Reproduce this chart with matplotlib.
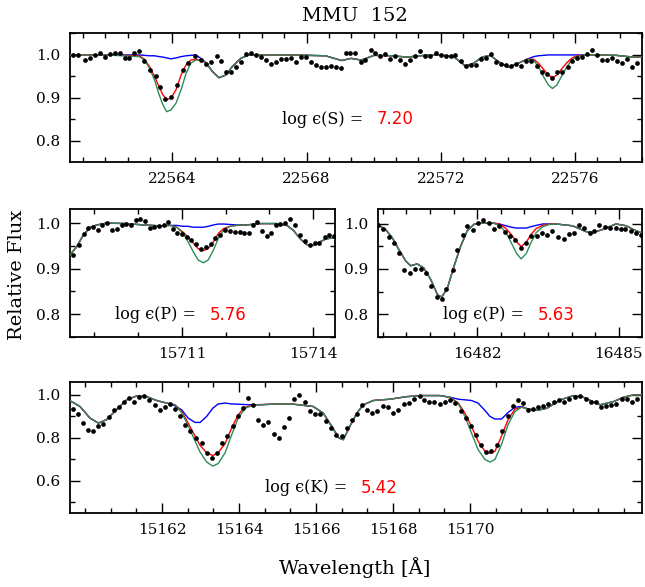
import numpy as np
import matplotlib
matplotlib.use('Agg')
import matplotlib.pyplot as plt
from matplotlib.ticker import MultipleLocator, FixedLocator

plt.rcParams['font.family'] = 'DejaVu Serif'

# S I panel
s_obs_wave = [22561.04, 22561.19, 22561.39, 22561.54, 22561.69, 22561.83, 22561.98, 22562.13, 22562.28,
              22562.43, 22562.58, 22562.72, 22562.87, 22563.02, 22563.17, 22563.32, 22563.50, 22563.63,
              22563.79, 22563.95, 22564.13, 22564.31, 22564.48, 22564.68, 22564.85, 22565.00, 22565.15,
              22565.32, 22565.46, 22565.61, 22565.76, 22565.91, 22566.06, 22566.21, 22566.35, 22566.50,
              22566.65, 22566.80, 22566.95, 22567.10, 22567.25, 22567.39, 22567.54, 22567.69, 22567.84,
              22567.99, 22568.13, 22568.28, 22568.43, 22568.58, 22568.73, 22568.88, 22569.03, 22569.17,
              22569.31, 22569.45, 22569.61, 22569.75, 22569.91, 22570.04, 22570.20, 22570.35, 22570.50,
              22570.65, 22570.80, 22570.94, 22571.09, 22571.24, 22571.39, 22571.54, 22571.68, 22571.85,
              22572.00, 22572.15, 22572.30, 22572.44, 22572.61, 22572.76, 22572.91, 22573.06, 22573.21,
              22573.36, 22573.51, 22573.65, 22573.80, 22573.95, 22574.09, 22574.24, 22574.39, 22574.54,
              22574.69, 22574.88, 22575.03, 22575.18, 22575.33, 22575.48, 22575.63, 22575.78, 22575.92,
              22576.07, 22576.22, 22576.37, 22576.52, 22576.67, 22576.81, 22576.96, 22577.11, 22577.26,
              22577.41, 22577.55, 22577.70, 22577.85]
s_obs_flux = [1.000, 1.000, 0.988, 0.994, 1.000, 1.004, 0.996, 1.002, 1.005,
              1.004, 0.992, 0.992, 1.005, 1.009, 0.987, 0.965, 0.950, 0.925,
              0.897, 0.903, 0.930, 0.965, 0.981, 0.998, 0.988, 0.978, 0.984,
              0.998, 0.987, 0.961, 0.961, 0.973, 0.984, 1.002, 1.004, 0.999,
              0.996, 0.988, 0.979, 0.984, 0.990, 0.990, 0.992, 0.984, 0.996,
              0.996, 0.983, 0.976, 0.972, 0.973, 0.975, 0.973, 0.969, 1.004,
              1.005, 1.005, 0.984, 0.988, 1.012, 1.004, 0.998, 1.002, 0.990,
              0.998, 0.988, 0.978, 0.988, 0.998, 1.008, 0.998, 0.998, 1.004,
              1.000, 0.998, 0.998, 1.000, 0.987, 0.975, 0.977, 0.977, 0.990,
              0.992, 1.002, 0.983, 0.978, 0.977, 0.975, 0.978, 0.974, 0.986,
              0.986, 0.974, 0.961, 0.955, 0.947, 0.961, 0.961, 0.971, 0.986,
              0.992, 0.996, 1.002, 1.012, 1.000, 0.988, 0.988, 0.992, 0.986,
              0.981, 0.990, 0.971, 0.981]
# synthesis where the three abundances agree
s_mod_wave = [22560.95, 22562.00, 22565.20, 22565.39, 22565.59, 22565.79, 22566.04, 22566.28, 22567.57,
              22568.56, 22569.05, 22569.33, 22569.63, 22570.02, 22570.52, 22571.01, 22571.51, 22572.00,
              22572.40, 22572.74, 22572.99, 22573.23, 22573.48, 22573.73, 22574.02, 22574.32, 22576.54,
              22577.23, 22577.73, 22578.00]
s_mod_flux = [1.000, 1.000, 0.961, 0.947, 0.953, 0.973, 0.992, 1.000, 1.000,
              0.998, 0.987, 0.992, 0.988, 0.999, 0.998, 0.995, 0.999, 1.000,
              0.995, 0.974, 0.981, 0.995, 0.999, 0.984, 0.971, 0.981, 1.000,
              0.999, 0.995, 0.995]
s_line1_wave = [22563.02, 22563.17, 22563.32, 22563.47, 22563.61, 22563.72, 22563.83, 22563.96,
                22564.11, 22564.26, 22564.41, 22564.55, 22564.70, 22564.85, 22565.00]
s_line1_blue = [1.000, 0.999, 0.998, 0.998, 0.996, 0.995, 0.993, 0.991,
                0.993, 0.996, 0.998, 0.999, 1.000, 0.992, 0.982]
s_line1_red = [0.998, 0.990, 0.973, 0.950, 0.925, 0.907, 0.897, 0.899,
               0.919, 0.953, 0.977, 0.988, 0.990, 0.988, 0.982]
s_line1_green = [0.996, 0.988, 0.969, 0.942, 0.907, 0.884, 0.868, 0.872,
                 0.888, 0.919, 0.957, 0.981, 0.988, 0.988, 0.982]
s_line2_wave = [22574.57, 22574.77, 22574.91, 22575.06, 22575.21, 22575.33, 22575.46, 22575.60,
                22575.75, 22575.90, 22576.05, 22576.30]
s_line2_blue = [0.990, 0.996, 0.998, 0.999, 1.000, 1.000, 1.000, 1.000, 1.000, 1.000, 1.000, 1.000]
s_line2_red = [0.990, 0.990, 0.981, 0.967, 0.953, 0.947, 0.953, 0.967, 0.981, 0.992, 0.998, 1.000]
s_line2_green = [0.990, 0.988, 0.973, 0.950, 0.930, 0.922, 0.930, 0.950, 0.971, 0.988, 0.996, 1.000]

# P I 15711 panel
p1_obs_wave = [15708.51, 15708.65, 15708.76, 15708.86, 15708.97, 15709.07, 15709.18, 15709.29, 15709.41,
               15709.52, 15709.63, 15709.73, 15709.83, 15709.95, 15710.05, 15710.16, 15710.27, 15710.37,
               15710.48, 15710.59, 15710.69, 15710.80, 15710.89, 15711.01, 15711.11, 15711.21, 15711.32,
               15711.43, 15711.54, 15711.66, 15711.76, 15711.88, 15711.99, 15712.10, 15712.21, 15712.33,
               15712.43, 15712.54, 15712.62, 15712.72, 15712.83, 15712.94, 15713.04, 15713.14, 15713.24,
               15713.36, 15713.47, 15713.59, 15713.70, 15713.81, 15713.93, 15714.04, 15714.14, 15714.26,
               15714.37, 15714.48]
p1_obs_flux = [0.929, 0.953, 0.977, 0.989, 0.991, 0.985, 0.995, 1.000, 0.985,
               0.988, 0.995, 0.997, 0.996, 1.007, 1.009, 1.004, 0.989, 0.991,
               0.993, 0.995, 1.002, 0.986, 0.979, 0.977, 0.970, 0.963, 0.955,
               0.943, 0.947, 0.955, 0.968, 0.975, 0.984, 0.982, 0.981, 0.981,
               0.979, 0.979, 0.996, 1.002, 0.983, 0.971, 0.979, 0.996, 0.999,
               1.000, 1.009, 0.995, 0.973, 0.960, 0.953, 0.956, 0.957, 0.969,
               0.973, 0.971]
p1_mod_wave = [15708.40, 15708.59, 15708.74, 15708.89, 15709.05, 15709.28, 15709.73, 15710.12, 15710.50,
               15712.78, 15713.17, 15713.40, 15713.55, 15713.70, 15713.85, 15714.01, 15714.16, 15714.31,
               15714.46, 15714.58]
p1_mod_flux = [0.925, 0.948, 0.973, 0.990, 0.996, 1.000, 0.999, 0.996, 0.994,
               0.999, 0.999, 0.995, 0.984, 0.966, 0.953, 0.951, 0.959, 0.966,
               0.967, 0.964]
p1_line_wave = [15710.73, 15710.88, 15711.03, 15711.14, 15711.26, 15711.37, 15711.49, 15711.60,
                15711.72, 15711.83, 15711.95, 15712.10, 15712.25, 15712.48]
p1_line_blue = [0.995, 0.995, 0.993, 0.993, 0.991, 0.991, 0.991, 0.993,
                0.996, 0.998, 0.998, 0.997, 0.996, 0.996]
p1_line_red = [0.995, 0.991, 0.980, 0.969, 0.956, 0.944, 0.940, 0.944,
               0.959, 0.977, 0.988, 0.993, 0.995, 0.996]
p1_line_green = [0.995, 0.991, 0.977, 0.959, 0.937, 0.919, 0.913, 0.919,
                 0.941, 0.966, 0.984, 0.993, 0.995, 0.996]

# P I 16482 panel
p2_obs_wave = [16479.91, 16480.01, 16480.13, 16480.24, 16480.34, 16480.46, 16480.58, 16480.68, 16480.80,
               16480.91, 16481.02, 16481.14, 16481.25, 16481.35, 16481.48, 16481.58, 16481.69, 16481.79,
               16481.92, 16482.02, 16482.13, 16482.25, 16482.36, 16482.47, 16482.59, 16482.69, 16482.81,
               16482.93, 16483.03, 16483.15, 16483.26, 16483.37, 16483.47, 16483.59, 16483.71, 16483.83,
               16483.94, 16484.05, 16484.15, 16484.27, 16484.38, 16484.48, 16484.59, 16484.71, 16484.82,
               16484.93, 16485.04, 16485.14, 16485.26, 16485.37, 16485.47]
p2_obs_flux = [0.996, 0.989, 0.971, 0.958, 0.936, 0.897, 0.891, 0.899, 0.900,
               0.891, 0.863, 0.839, 0.833, 0.856, 0.897, 0.941, 0.974, 0.995,
               0.986, 1.002, 1.008, 1.002, 0.989, 0.995, 0.981, 0.973, 0.963,
               0.947, 0.956, 0.973, 0.973, 0.980, 0.974, 0.984, 0.971, 0.967,
               0.976, 0.980, 0.997, 0.991, 0.980, 0.984, 0.996, 0.993, 0.991,
               0.991, 0.989, 0.989, 0.984, 0.980, 0.974]
p2_mod_wave = [16479.85, 16480.06, 16480.20, 16480.34, 16480.49, 16480.59, 16480.73, 16480.87, 16481.02,
               16481.16, 16481.25, 16481.37, 16481.51, 16481.65, 16481.79, 16481.94, 16482.11,
               16484.02, 16484.31, 16484.45, 16484.66, 16484.94, 16485.16, 16485.30, 16485.51]
p2_mod_flux = [1.000, 0.987, 0.969, 0.943, 0.917, 0.907, 0.911, 0.902, 0.876,
               0.843, 0.838, 0.858, 0.906, 0.950, 0.984, 0.999, 1.001,
               0.995, 0.982, 0.980, 0.987, 0.999, 0.995, 0.987, 0.978]
p2_line_wave = [16482.33, 16482.47, 16482.61, 16482.72, 16482.83, 16482.93, 16483.04, 16483.14,
                16483.25, 16483.39, 16483.53, 16483.67]
p2_line_blue = [1.001, 0.999, 0.995, 0.992, 0.990, 0.990, 0.990, 0.993, 0.996, 0.999, 0.999, 0.999]
p2_line_red = [1.001, 0.999, 0.989, 0.976, 0.961, 0.949, 0.959, 0.976, 0.989, 0.996, 0.999, 0.999]
p2_line_green = [1.001, 0.996, 0.980, 0.958, 0.935, 0.922, 0.934, 0.958, 0.980, 0.993, 0.998, 0.999]

# K I panel
k_obs_wave = [15159.68, 15159.83, 15159.96, 15160.09, 15160.22, 15160.35, 15160.48, 15160.62, 15160.75,
              15160.89, 15161.01, 15161.14, 15161.27, 15161.41, 15161.54, 15161.67, 15161.82, 15161.95,
              15162.08, 15162.21, 15162.35, 15162.48, 15162.61, 15162.74, 15162.88, 15163.03, 15163.16,
              15163.29, 15163.44, 15163.57, 15163.70, 15163.84, 15163.97, 15164.10, 15164.24, 15164.37,
              15164.50, 15164.63, 15164.76, 15164.91, 15165.04, 15165.17, 15165.31, 15165.44, 15165.57,
              15165.71, 15165.84, 15165.97, 15166.10, 15166.25, 15166.38, 15166.51, 15166.67, 15166.80,
              15166.94, 15167.07, 15167.20, 15167.33, 15167.46, 15167.59, 15167.75, 15167.88, 15168.01,
              15168.14, 15168.29, 15168.42, 15168.55, 15168.69, 15168.81, 15168.94, 15169.07, 15169.22,
              15169.35, 15169.48, 15169.61, 15169.76, 15169.90, 15170.03, 15170.17, 15170.30, 15170.43,
              15170.56, 15170.71, 15170.84, 15170.98, 15171.11, 15171.24, 15171.37, 15171.52, 15171.65,
              15171.78, 15171.90, 15172.04, 15172.18, 15172.32, 15172.45, 15172.58, 15172.73, 15172.86,
              15173.01, 15173.14, 15173.27, 15173.40, 15173.53, 15173.66, 15173.79, 15173.94, 15174.07,
              15174.22, 15174.35]
k_obs_flux = [0.934, 0.911, 0.869, 0.835, 0.834, 0.854, 0.866, 0.897, 0.928,
              0.946, 0.969, 0.985, 0.969, 0.992, 0.995, 0.977, 0.954, 0.931,
              0.946, 0.957, 0.934, 0.900, 0.862, 0.831, 0.800, 0.777, 0.731,
              0.708, 0.731, 0.777, 0.808, 0.854, 0.900, 0.938, 0.985, 0.954,
              0.882, 0.862, 0.874, 0.820, 0.800, 0.851, 0.892, 0.980, 1.000,
              0.966, 0.923, 0.911, 0.911, 0.877, 0.846, 0.815, 0.808, 0.846,
              0.882, 0.911, 0.954, 0.928, 0.918, 0.923, 0.949, 0.943, 0.915,
              0.928, 0.958, 0.962, 0.980, 0.995, 0.977, 0.969, 0.965, 0.958,
              0.969, 0.977, 0.962, 0.923, 0.892, 0.854, 0.815, 0.765, 0.734,
              0.738, 0.765, 0.834, 0.900, 0.949, 0.977, 0.962, 0.931, 0.934,
              0.943, 0.949, 0.958, 0.969, 0.974, 0.969, 0.980, 0.989, 0.995,
              0.980, 0.969, 0.969, 0.943, 0.949, 0.954, 0.958, 0.980, 0.980,
              0.966, 0.980]
k_mod_wave = [15159.60, 15159.87, 15160.13, 15160.35, 15160.56, 15160.82, 15161.08, 15161.34, 15161.60,
              15161.86, 15162.12, 15164.89, 15165.41, 15165.93, 15166.19, 15166.41, 15166.59, 15166.71,
              15166.88, 15167.06, 15167.23, 15167.49, 15167.92, 15168.36, 15168.79, 15171.74, 15172.00,
              15172.35, 15172.69, 15172.95, 15173.38, 15173.73, 15173.99, 15174.25, 15174.47]
k_mod_flux = [0.974, 0.946, 0.892, 0.869, 0.885, 0.931, 0.977, 0.995, 0.992,
              0.974, 0.962, 0.957, 0.957, 0.946, 0.915, 0.854, 0.800, 0.792,
              0.854, 0.915, 0.954, 0.974, 0.980, 0.992, 0.997, 0.928, 0.938,
              0.977, 0.997, 0.989, 0.954, 0.969, 0.989, 1.000, 1.000]
k_line1_wave = [15162.34, 15162.51, 15162.68, 15162.86, 15162.99, 15163.16, 15163.32, 15163.46,
                15163.64, 15163.81, 15163.98, 15164.16, 15164.37, 15164.63]
k_line1_blue = [0.949, 0.931, 0.892, 0.872, 0.872, 0.900, 0.938, 0.958,
                0.962, 0.958, 0.957, 0.955, 0.954, 0.955]
k_line1_red = [0.954, 0.923, 0.869, 0.808, 0.765, 0.731, 0.718, 0.731,
               0.774, 0.846, 0.908, 0.943, 0.954, 0.955]
k_line1_green = [0.954, 0.918, 0.857, 0.785, 0.734, 0.688, 0.669, 0.681,
                 0.731, 0.815, 0.892, 0.938, 0.952, 0.955]
k_line2_wave = [15169.22, 15169.48, 15169.70, 15169.87, 15170.04, 15170.21, 15170.39, 15170.52,
                15170.65, 15170.82, 15170.99, 15171.17, 15171.34, 15171.52]
k_line2_blue = [0.997, 0.989, 0.980, 0.977, 0.974, 0.962, 0.928, 0.900,
                0.888, 0.888, 0.918, 0.943, 0.946, 0.934]
k_line2_red = [0.997, 0.989, 0.962, 0.915, 0.854, 0.785, 0.738, 0.728,
               0.738, 0.808, 0.885, 0.934, 0.943, 0.934]
k_line2_green = [0.997, 0.989, 0.958, 0.900, 0.823, 0.746, 0.700, 0.688,
                 0.700, 0.769, 0.862, 0.923, 0.943, 0.934]
k_ticks = [15162, 15164, 15166, 15168, 15170]

labels = ['log \u03f5(S) = ', 'log \u03f5(P) = ', 'log \u03f5(P) = ', 'log \u03f5(K) = ']
abund = ['7.20', '5.76', '5.63', '5.42']

#%% helpers
def splice(base_w, base_f, segs):
    w = np.asarray(base_w, float)
    f = np.asarray(base_f, float)
    for sw, sf in segs:
        sw = np.asarray(sw, float)
        keep = (w < sw[0]) | (w > sw[-1])
        w = np.concatenate([w[keep], sw])
        f = np.concatenate([f[keep], np.asarray(sf, float)])
        order = np.argsort(w)
        w, f = w[order], f[order]
    return w, f

def draw_panel(ax, obs_w, obs_f, base_w, base_f, lines, xlim, ylim, xmaj, xmin, ymaj, ymin, label, ab, tpos):
    colors = ['#0000ff', '#ff0000', '#2e8b57']
    for k, c in enumerate(colors):
        segs = [(lw, lf[k]) for lw, lf in lines]
        w, f = splice(base_w, base_f, segs)
        ax.plot(w, f, color=c, lw=1.0, zorder=2 + k)
    ax.plot(obs_w, obs_f, 'o', color='k', ms=3.4, mew=0, zorder=6)
    ax.set_xlim(xlim)
    ax.set_ylim(ylim)
    if np.iterable(xmaj):
        ax.xaxis.set_major_locator(FixedLocator(xmaj))
    else:
        ax.xaxis.set_major_locator(MultipleLocator(xmaj))
    ax.xaxis.set_minor_locator(MultipleLocator(xmin))
    ax.yaxis.set_major_locator(MultipleLocator(ymaj))
    ax.yaxis.set_minor_locator(MultipleLocator(ymin))
    ax.xaxis.set_major_formatter(plt.FormatStrFormatter('%d'))
    ax.yaxis.set_major_formatter(plt.FormatStrFormatter('%.1f'))
    ax.tick_params(which='both', direction='in', top=True, right=True, labelsize=11, width=1.0, pad=7)
    ax.tick_params(which='major', length=7)
    ax.tick_params(which='minor', length=3.5)
    for sp in ax.spines.values():
        sp.set_linewidth(1.3)
    t = ax.text(tpos[0], tpos[1], label, transform=ax.transAxes, fontsize=11.5, va='center', ha='left')
    ax.annotate(ab, xy=(1, 0.5), xycoords=t, va='center', ha='left', color='#ff0000',
                fontsize=12, family='DejaVu Sans', xytext=(6, 0), textcoords='offset points')

#%% figure
W, H = 645, 587
fig = plt.figure(figsize=(W / 100, H / 100), dpi=100)

ax1 = fig.add_axes([70 / W, 1 - 162 / H, 572 / W, 129 / H])
draw_panel(ax1, s_obs_wave, s_obs_flux, s_mod_wave, s_mod_flux,
           [(s_line1_wave, (s_line1_blue, s_line1_red, s_line1_green)),
            (s_line2_wave, (s_line2_blue, s_line2_red, s_line2_green))],
           (22560.95, 22578.0), (0.751, 1.051), 4, 2 / 3, 0.1, 0.05, labels[0], abund[0], (0.371, 0.333))

ax2 = fig.add_axes([70 / W, 1 - 337 / H, 265 / W, 128 / H])
draw_panel(ax2, p1_obs_wave, p1_obs_flux, p1_mod_wave, p1_mod_flux,
           [(p1_line_wave, (p1_line_blue, p1_line_red, p1_line_green))],
           (15708.44, 15714.5), (0.75, 1.031), 3, 1, 0.1, 0.05, labels[1], abund[1], (0.17, 0.172))

ax3 = fig.add_axes([378 / W, 1 - 337 / H, 264 / W, 128 / H])
draw_panel(ax3, p2_obs_wave, p2_obs_flux, p2_mod_wave, p2_mod_flux,
           [(p2_line_wave, (p2_line_blue, p2_line_red, p2_line_green))],
           (16479.9, 16485.49), (0.75, 1.032), 3, 0.5, 0.1, 0.05, labels[2], abund[2], (0.246, 0.172))

ax4 = fig.add_axes([70 / W, 1 - 513 / H, 572 / W, 131 / H])
draw_panel(ax4, k_obs_wave, k_obs_flux, k_mod_wave, k_mod_flux,
           [(k_line1_wave, (k_line1_blue, k_line1_red, k_line1_green)),
            (k_line2_wave, (k_line2_blue, k_line2_red, k_line2_green))],
           (15159.61, 15174.47), (0.451, 1.06), k_ticks, 2 / 3, 0.2, 0.1, labels[3], abund[3], (0.341, 0.191))

fig.text(355 / W, 1 - 16 / H, 'MMU  152', ha='center', va='center', fontsize=14)
fig.text(17 / W, 1 - 275 / H, 'Relative Flux', ha='center', va='center', rotation=90, fontsize=14)
fig.text(355 / W, 1 - 568 / H, 'Wavelength [\u00c5]', ha='center', va='center', fontsize=14)

fig.savefig('out.png', dpi=100)
